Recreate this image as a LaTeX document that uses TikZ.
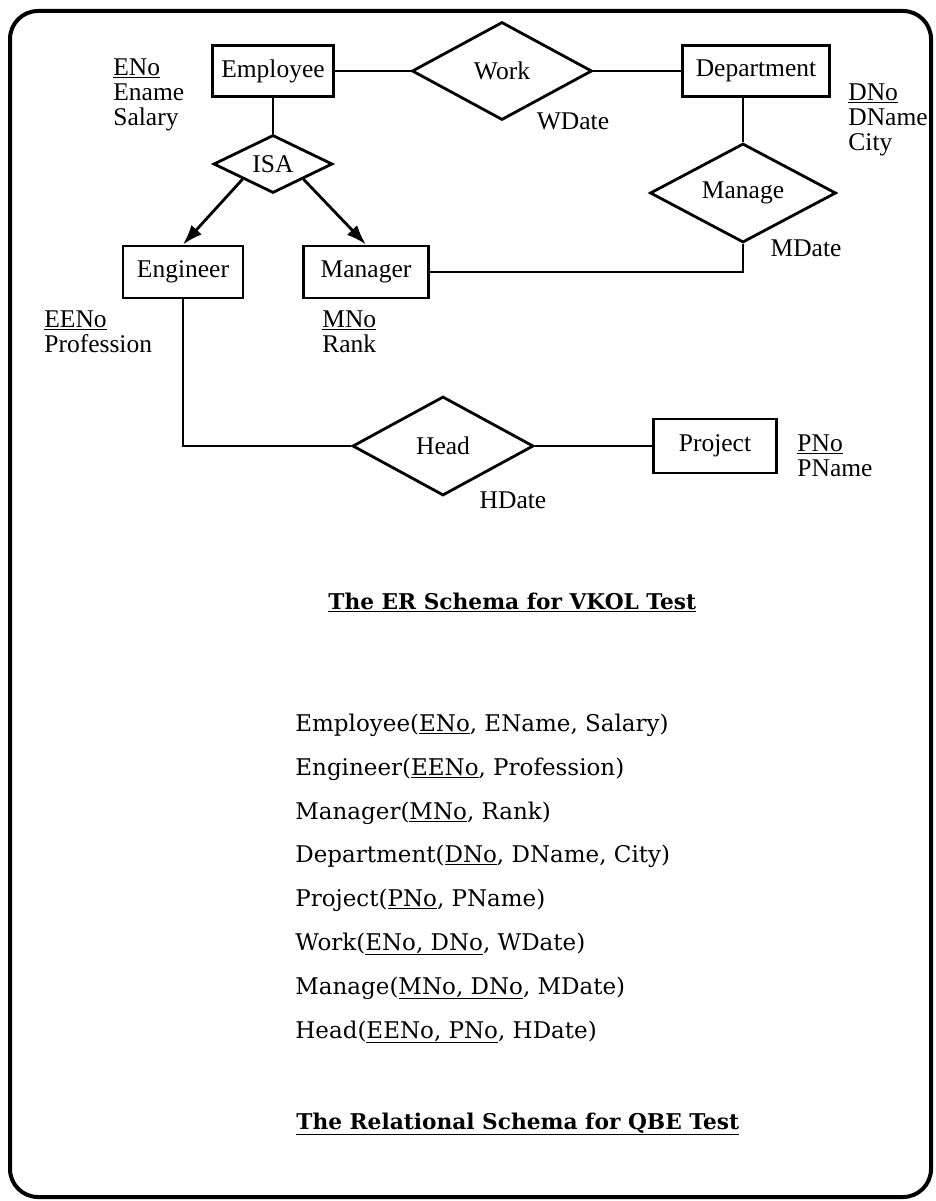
\documentclass[tikz,border=0pt]{standalone}
\usepackage{fontspec}
\setmainfont{Liberation Serif}
\newfontfamily\schemafont{DejaVu Serif}
\usetikzlibrary{shapes.geometric,arrows.meta}

\begin{document}
\begin{tikzpicture}[x=1pt,y=-1pt,line width=2.8pt,
  entity/.style={draw,rectangle,minimum height=51pt,inner sep=2pt,font=\fontsize{25.5}{25}\selectfont},
  rel/.style={draw,diamond,aspect=2,inner sep=1pt,font=\fontsize{25.5}{25}\selectfont},
  attr/.style={align=left,inner sep=0pt,anchor=north west,font=\fontsize{25.5}{25}\selectfont},
  datelbl/.style={inner sep=0pt,font=\fontsize{25.5}{25}\selectfont},
  rtext/.style={anchor=base west,inner sep=0pt,font=\schemafont\fontsize{23}{23}\selectfont},
  titletext/.style={anchor=base west,inner sep=0pt,font=\schemafont\bfseries\fontsize{21.7}{22}\selectfont},
  isaarrow/.style={-{Latex[length=20pt,width=14pt]}}]
\useasboundingbox (0,0) rectangle (936,1201);
\draw[line width=4pt,rounded corners=28pt] (10,11) rectangle (931,1197);

% entities and relationships
\node[entity,minimum width=121pt] (emp) at (273,71) {Employee};
\node[rel,minimum width=180pt,minimum height=98pt] (work) at (502,71) {Work};
\node[entity,minimum width=147pt] (dept) at (756,71) {Department};
\node[rel,minimum width=119pt,minimum height=58pt] (isa) at (273,164) {ISA};
\node[rel,minimum width=186pt,minimum height=99pt] (manage) at (743,193) {Manage};
\node[entity,minimum width=120pt,minimum height=52pt] (eng) at (183,272) {Engineer};
\node[entity,minimum width=125pt,minimum height=52pt] (mgr) at (366,272) {Manager};
\node[rel,minimum width=181pt,minimum height=99pt] (head) at (443,446) {Head};
\node[entity,minimum width=123pt,minimum height=54pt] (proj) at (715,446) {Project};

% attributes
\node[attr] (empattr) at (112,57) {\underline{ENo}\\Ename\\Salary};
\node[attr] (deptattr) at (847,82) {\underline{DNo}\\DName\\City};
\node[attr] (engattr) at (43,309) {\underline{EENo}\\Profession};
\node[attr] (mgrattr) at (321,309) {\underline{MNo}\\Rank};
\node[attr] (projattr) at (796,433) {\underline{PNo}\\PName};
\node[datelbl] (wdate) at (573,121) {WDate};
\node[datelbl] (mdate) at (806,248) {MDate};
\node[datelbl] (hdate) at (513,500) {HDate};

% connectors
\draw (emp) -- (work);
\draw (work) -- (dept);
\draw (emp) -- (isa);
\draw[isaarrow] (isa.south west) -- (eng.north);
\draw[isaarrow] (isa.south east) -- (mgr.north);
\draw (manage.north) -- (manage.north |- dept.south);
\draw (manage.south) |- (mgr.east);
\draw (eng.south) |- (head.west);
\draw (head) -- (proj);

% schemas
\node[titletext] (ertitle) at (327,609) {\underline{The ER Schema for VKOL Test}};
\node[rtext] (remp) at (294,731) {Employee(\underline{ENo}, EName, Salary)};
\node[rtext] (reng) at (294,775) {Engineer(\underline{EENo}, Profession)};
\node[rtext] (rmgr) at (294,819) {Manager(\underline{MNo}, Rank)};
\node[rtext] (rdept) at (294,862) {Department(\underline{DNo}, DName, City)};
\node[rtext] (rproj) at (294,906) {Project(\underline{PNo}, PName)};
\node[rtext] (rwork) at (294,950) {Work(\underline{ENo, DNo}, WDate)};
\node[rtext] (rmanage) at (294,994) {Manage(\underline{MNo, DNo}, MDate)};
\node[rtext] (rhead) at (294,1038) {Head(\underline{EENo, PNo}, HDate)};
\node[titletext] (reltitle) at (295,1129) {\underline{The Relational Schema for QBE Test}};
\end{tikzpicture}
\end{document}
